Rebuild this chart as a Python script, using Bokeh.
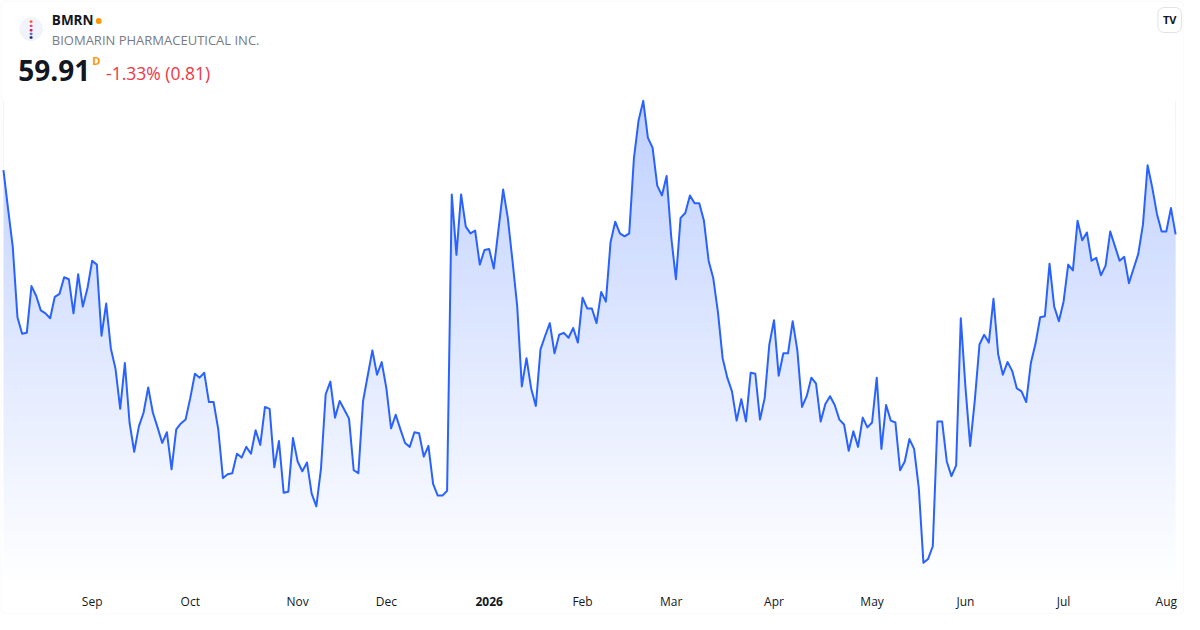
import numpy as np
from bokeh.plotting import figure
from bokeh.models import Range1d, Label, BoxAnnotation, ColumnDataSource
from bokeh.core.properties import value
from bokeh.embed import file_html
from bokeh.resources import INLINE

# ---------------- data ----------------
ticker_symbol = "BMRN"
company_name = "BIOMARIN PHARMACEUTICAL INC."
last_price = "59.91"
interval = "D"
change_text = "-1.33% (0.81)"

close = [
    61.89, 60.69, 59.52, 57.36, 56.85, 56.88, 58.32, 58.02, 57.57, 57.48,
    57.33, 57.99, 58.08, 58.59, 58.53, 57.48, 58.68, 57.69, 58.26, 59.10,
    58.98, 56.79, 57.78, 56.40, 55.77, 54.54, 55.95, 54.12, 53.22, 54.00,
    54.42, 55.20, 54.42, 53.97, 53.49, 53.82, 52.68, 53.91, 54.09, 54.21,
    54.87, 55.62, 55.50, 55.65, 54.75, 54.75, 53.91, 52.41, 52.53, 52.56,
    53.16, 53.04, 53.37, 53.16, 53.88, 53.43, 54.60, 54.54, 52.74, 53.55,
    51.96, 51.99, 53.64, 52.92, 52.62, 52.89, 51.93, 51.54, 52.71, 54.99,
    55.38, 54.27, 54.78, 54.51, 54.24, 52.65, 52.56, 54.78, 55.56, 56.34,
    55.59, 55.98, 55.17, 53.94, 54.36, 53.91, 53.49, 53.37, 53.82, 53.79,
    53.07, 53.40, 52.23, 51.87, 51.87, 52.02, 61.14, 59.28, 61.14, 60.15,
    59.94, 60.03, 58.98, 59.43, 59.46, 58.86, 60.06, 61.29, 60.42, 59.10,
    57.72, 55.23, 56.10, 55.17, 54.63, 56.37, 56.79, 57.18, 56.25, 56.82,
    56.88, 56.73, 57.03, 56.58, 57.96, 57.63, 57.63, 57.18, 58.14, 57.84,
    59.67, 60.30, 59.94, 59.85, 59.94, 62.25, 63.42, 64.02, 62.88, 62.58,
    61.41, 61.11, 61.71, 59.82, 58.53, 60.42, 60.57, 61.11, 60.87, 60.87,
    60.33, 59.10, 58.56, 57.51, 56.10, 55.50, 55.08, 54.18, 54.84, 54.15,
    55.65, 55.62, 54.21, 54.87, 56.52, 57.27, 55.56, 56.25, 56.25, 57.24,
    56.34, 54.60, 54.93, 55.50, 55.32, 54.15, 54.69, 54.93, 54.66, 54.21,
    54.06, 53.25, 53.85, 53.37, 54.27, 53.97, 54.12, 55.50, 53.31, 54.66,
    54.18, 54.12, 52.65, 52.92, 53.61, 53.31, 52.11, 49.80, 49.92, 50.31,
    54.15, 54.15, 52.92, 52.47, 52.80, 57.33, 55.20, 53.40, 54.81, 56.52,
    56.82, 56.58, 57.93, 56.22, 55.59, 55.98, 55.71, 55.17, 55.08, 54.75,
    55.95, 56.55, 57.36, 57.39, 59.01, 57.69, 57.24, 57.84, 58.98, 58.80,
    60.33, 59.73, 59.97, 59.10, 59.19, 58.65, 58.95, 60.00, 59.55, 59.10,
    59.22, 58.41, 58.86, 59.31, 60.21, 62.04, 61.35, 60.54, 60.00, 60.00,
    60.72, 59.91,
]

month_ticks = [19, 40, 63, 82, 104, 124, 143, 165, 186, 206, 227, 249]
month_labels = ["Sep", "Oct", "Nov", "Dec", "2026", "Feb", "Mar", "Apr",
                "May", "Jun", "Jul", "Aug"]

# ---------------- layout ----------------
W, H = 1184, 614
REF_W, REF_H = 1200.0, 630.0
Y_TOP, Y_BOT = 67.11, 48.21          # price at top / bottom edge of the card
FILL_BOTTOM = 49.02                  # bottom of the price pane
FONT = "Open Sans"
LINE_COLOR = "#2962FF"
TEXT_DARK = "#131722"

sxf = W / REF_W
syf = H / REF_H


def SX(rx):
    return rx * sxf


def SY(ry):
    return H - ry * syf


def price_at(ry):
    return Y_TOP - ry * (Y_TOP - Y_BOT) / REF_H


n = len(close)
xs = list(range(n))

p = figure(width=W, height=H, output_backend="svg", toolbar_location=None,
           x_range=Range1d(-0.63, n - 1 + 1.9), y_range=Range1d(Y_BOT, Y_TOP),
           x_axis_location=None, y_axis_location=None,
           min_border_left=0, min_border_right=0, min_border_top=0,
           min_border_bottom=0)
p.outline_line_color = None
p.background_fill_color = "white"
p.border_fill_color = "white"
p.xgrid.visible = False
p.ygrid.visible = False

# gradient fill under the line
top_price = max(close)
rows = 256
alpha = np.linspace(0.0, 0.30, rows)
img = np.zeros((rows, 1), dtype=np.uint32)
view = img.view(dtype=np.uint8).reshape((rows, 1, 4))
view[:, 0, 0] = 41
view[:, 0, 1] = 98
view[:, 0, 2] = 255
view[:, 0, 3] = (alpha * 255).astype(np.uint8)
p.image_rgba(image=[img], x=0, y=FILL_BOTTOM, dw=n - 1, dh=top_price - FILL_BOTTOM)
# mask above the line
p.varea(x=xs, y1=close, y2=top_price + 0.5, fill_color="white", fill_alpha=1.0)
p.line(xs, close, line_color=LINE_COLOR, line_width=2, line_join="round")

# time-scale labels
label_src = ColumnDataSource(dict(
    x=month_ticks,
    y=[price_at(617)] * len(month_ticks),
    text=month_labels,
    style=["bold" if l == "2026" else "normal" for l in month_labels],
))
p.text(x="x", y="y", text="text", source=label_src,
       text_font=value(FONT), text_font_size="12px", text_font_style="style",
       text_color=TEXT_DARK, text_align="center", text_baseline="middle")


def box(rx0, ry0, rx1, ry1, color, radius=0):
    b = BoxAnnotation(left=SX(rx0), right=SX(rx1), top=SY(ry0), bottom=SY(ry1),
                      left_units="screen", right_units="screen",
                      top_units="screen", bottom_units="screen",
                      fill_color=color, fill_alpha=1.0,
                      line_color=None, border_radius=radius)
    p.add_layout(b)


# logo
box(19, 17.5, 43, 41.5, "#F0F3FA", radius=12)
for yy, c in zip([21.7, 26.0, 30.5, 34.3, 38.0],
                 ["#F4511E", "#EC407A", "#D81B60", "#5C6BC0", "#1A237E"]):
    box(29.5, yy - 1.2, 32.5, yy + 1.2, c, radius=1)


def label(rx, ry, text, size, color, bold=False, align="left"):
    p.add_layout(Label(x=SX(rx), y=SY(ry), x_units="screen", y_units="screen",
                       text=text, text_font=FONT, text_font_size=size,
                       text_font_style="bold" if bold else "normal",
                       text_color=color, text_align=align,
                       text_baseline="middle"))


# header texts
label(52, 20.5, ticker_symbol, "13.5px", TEXT_DARK, bold=True)
box(96.5, 18, 102.5, 24, "#FF9800", radius=3)
label(52, 40.5, company_name, "13px", "#787B86")
label(18, 72, last_price, "28px", TEXT_DARK, bold=True)
label(93, 62, interval, "11px", "#FF9800", bold=True)
label(107, 74, change_text, "17.5px", "#F23645")

# TradingView badge
p.add_layout(Label(x=SX(1185), y=SY(20), x_units="screen", y_units="screen",
                   text="TV", text_font=FONT, text_font_size="11px",
                   text_font_style="bold", text_color=TEXT_DARK,
                   text_align="center", text_baseline="middle",
                   background_fill_color="white", border_line_color="#E0E3EB",
                   border_radius=6, padding=5))

# card border
p.add_layout(BoxAnnotation(left=0.5, right=W - 0.5, top=H - 0.5, bottom=0.5,
                           left_units="screen", right_units="screen",
                           top_units="screen", bottom_units="screen",
                           fill_alpha=0.0, line_color="#E0E3EB", line_width=1,
                           border_radius=6))

open("out.html", "w").write(file_html(p, INLINE))
